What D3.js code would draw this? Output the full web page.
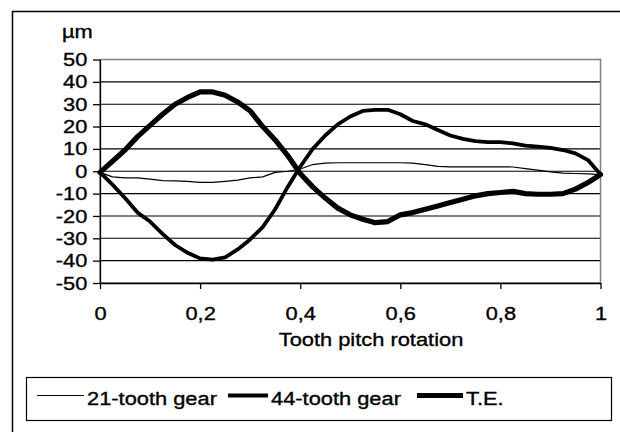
<!DOCTYPE html>
<html>
<head>
<meta charset="utf-8">
<script src="https://cdn.jsdelivr.net/npm/d3@7"></script>
<style>
  body { margin: 0; background: #fff; }
  text { font-family: "Liberation Sans", Arial, sans-serif; fill: #000; stroke: #000; stroke-width: 0.35px; }
</style>
</head>
<body>
<svg id="chart" width="620" height="432"></svg>
<script>
// rotation fraction of one tooth pitch
var xs = [0, 0.025, 0.05, 0.075, 0.1, 0.125, 0.15, 0.175, 0.2, 0.225,
          0.25, 0.275, 0.3, 0.325, 0.35, 0.375, 0.4, 0.425, 0.45, 0.475,
          0.5, 0.525, 0.55, 0.575, 0.6, 0.625, 0.65, 0.675, 0.7, 0.725,
          0.75, 0.775, 0.8, 0.825, 0.85, 0.875, 0.9, 0.925, 0.95, 0.975, 1];
var gear21 = [-0.5, -2.5, -3, -3, -3.5, -4.2, -4.3, -4.5, -5, -5,
              -4.5, -4, -3, -2.5, -0.5, 0, 1, 3, 3.6, 3.8,
              3.8, 3.8, 3.8, 3.8, 3.8, 3.6, 3, 2.2, 2, 2,
              2, 2, 2, 1.9, 1.2, 0.5, -0.3, -0.8, -1, -1.2, -1.5];
var gear44 = [-0.5, -6, -12, -18.5, -22.5, -28, -33, -36.5, -39, -39.5,
              -38.5, -35, -30.5, -25, -17, -7, 2, 10, 16, 21,
              24.5, 27, 27.5, 27.5, 25.5, 22.5, 21, 18.5, 16, 14.5,
              13.5, 13, 13, 12.5, 11.5, 11, 10.5, 9.5, 8, 5, -1.5];
var te = [-0.5, 4.5, 9.5, 15.5, 20.5, 25.5, 30, 33, 35.5, 35.5,
          34, 31, 27, 20, 14, 7, -1, -7, -12, -16.5,
          -19.5, -21.5, -23, -22.5, -19.5, -18.5, -17, -15.5, -14, -12.5,
          -11, -10, -9.5, -9, -10, -10.3, -10.3, -10, -8, -5, -1.5];
var yTicks = [-50, -40, -30, -20, -10, 0, 10, 20, 30, 40, 50];
var xTicks = [0, 0.2, 0.4, 0.6, 0.8, 1];
var seriesNames = ["21-tooth gear", "44-tooth gear", "T.E."];
var seriesWidths = [1.2, 3.8, 5.2];

var svg = d3.select("#chart");
var sx = 1.15; // glyphs in the original are drawn a bit wide
var fs = "19px";
var x = d3.scaleLinear().domain([0, 1]).range([100, 600.5]);
var y = d3.scaleLinear().domain([-50, 50]).range([283, 59.5]);

// outer chart frame (runs off the right and bottom edges)
svg.append("rect").attr("x", 12.5).attr("y", 11.5).attr("width", 640).attr("height", 440)
    .attr("fill", "none").attr("stroke", "#000").attr("stroke-width", 1.5);

// gridlines
svg.append("g").selectAll("line")
    .data(yTicks.filter(function (d) { return d > -50 && d < 50; }))
    .enter().append("line")
    .attr("x1", x(0)).attr("x2", x(1))
    .attr("y1", function (d) { return y(d); }).attr("y2", function (d) { return y(d); })
    .attr("stroke", "#000").attr("stroke-width", 1.1);

// plot area border
svg.append("rect").attr("x", x(0)).attr("y", y(50)).attr("width", x(1) - x(0)).attr("height", y(-50) - y(50))
    .attr("fill", "none").attr("stroke", "#808080").attr("stroke-width", 1.5);

var fmt = function (d) { return String(d).replace(".", ","); };

var yAxis = svg.append("g").attr("transform", "translate(" + x(0) + ",0)")
    .call(d3.axisLeft(y).tickValues(yTicks).tickFormat(fmt).tickSize(7).tickSizeOuter(0).tickPadding(4));
var xAxis = svg.append("g").attr("transform", "translate(0," + y(-50) + ")")
    .call(d3.axisBottom(x).tickValues(xTicks).tickFormat(fmt).tickSize(6).tickSizeOuter(0));
[yAxis, xAxis].forEach(function (a) {
  a.attr("font-family", null).attr("font-size", null);
  a.select(".domain").attr("stroke", "#000").attr("stroke-width", 1.3);
  a.selectAll(".tick line").attr("stroke", "#000").attr("stroke-width", 1.3);
  a.selectAll("text").style("font-size", fs);
});
yAxis.selectAll("text").attr("transform", "scale(" + sx + ",1)");
xAxis.selectAll("text").attr("y", 37).attr("dy", null).attr("transform", "scale(" + sx + ",1)");

// axis titles
svg.append("text").attr("transform", "translate(62,38) scale(" + sx + ",1)")
    .style("font-size", fs).text("µm");
svg.append("text").attr("transform", "translate(371,346) scale(" + sx + ",1)")
    .attr("text-anchor", "middle").style("font-size", fs).text("Tooth pitch rotation");

// series
var series = [gear21, gear44, te];
var line = d3.line()
    .x(function (d, i) { return x(xs[i]); })
    .y(function (d) { return y(d); });
svg.append("g").selectAll("path")
    .data(series)
    .enter().append("path")
    .attr("d", line)
    .attr("fill", "none").attr("stroke", "#000")
    .attr("stroke-linejoin", "round").attr("stroke-linecap", "round")
    .attr("stroke-width", function (d, i) { return seriesWidths[i]; });

// legend
var legend = svg.append("g");
legend.append("rect").attr("x", 26.5).attr("y", 377.5).attr("width", 585).attr("height", 43)
    .attr("fill", "#fff").attr("stroke", "#000").attr("stroke-width", 1.2);
var legendX = [37, 228, 417];
var legendLen = [47, 40, 46];
var item = legend.selectAll("g.item").data(seriesNames).enter().append("g").attr("class", "item");
item.append("line")
    .attr("x1", function (d, i) { return legendX[i]; })
    .attr("x2", function (d, i) { return legendX[i] + legendLen[i]; })
    .attr("y1", 395.5).attr("y2", 395.5)
    .attr("stroke", "#000").attr("stroke-width", function (d, i) { return seriesWidths[i]; });
item.append("text")
    .attr("transform", function (d, i) { return "translate(" + (legendX[i] + legendLen[i] + 3) + ",405) scale(" + sx + ",1)"; })
    .style("font-size", fs)
    .text(function (d) { return d; });
</script>
</body>
</html>
